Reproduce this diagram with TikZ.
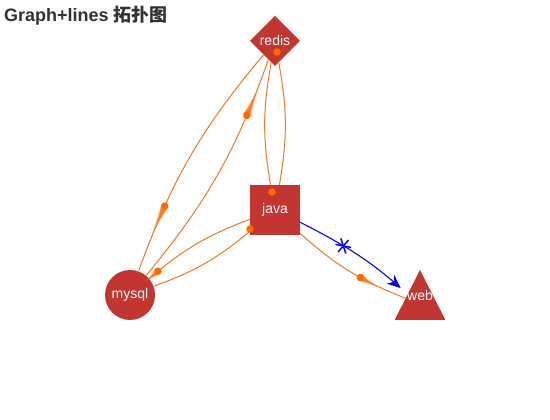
\documentclass[tikz,border=0pt]{standalone}
\usepackage{fontspec}
\setmainfont{Liberation Sans}
\newfontfamily\cjk{Noto Sans CJK SC}
\usepackage{tikz}
\usetikzlibrary{
  arrows.meta,
  calc,
  shapes.geometric,
  decorations.markings,
}

\definecolor{nodered}{HTML}{C23531}
\definecolor{linkorange}{HTML}{EE7A22}
\definecolor{dotorange}{HTML}{FF6A00}
\definecolor{titlegray}{HTML}{333333}

%% moving dot with its trail, #1 = signed trail length (pt)
\newcommand{\effectdot}[1]{%
  \foreach \f in {1,0.8,0.6,0.45,0.3}{
    \fill[dotorange,fill opacity=.3] (0,2.7pt) -- ({#1*\f*1pt},0pt) -- (0,-2.7pt) -- cycle;
  }
  \fill[dotorange] (0,0) circle (2.8pt);
}

\begin{document}
\begin{tikzpicture}[
  x=0.75pt, y=-0.75pt,
  every node/.style={align=center, inner sep=0pt, outer sep=0pt},
  vertex/.style={fill=nodered, text=white, font=\fontsize{10.5}{12}\selectfont},
  link/.style={linkorange, line width=0.75pt},
  flow/.style={blue, line width=0.8pt, -{Stealth[length=10pt,width=8.5pt,inset=3pt]}, shorten >=7pt},
  runfwd/.style 2 args={postaction={decorate, decoration={markings,
      mark=at position #1 with {\effectdot{-#2}}}}},
  runback/.style 2 args={postaction={decorate, decoration={markings,
      mark=at position #1 with {\effectdot{#2}}}}},
  asterisk/.style={postaction={decorate, decoration={markings,
      mark=at position #1 with {
        \draw[-, shorten >=0pt, blue, line width=1.1pt] (80:6pt) -- (260:6pt);
        \draw[-, shorten >=0pt, blue, line width=1.1pt] (20:6pt) -- (200:6pt);
        \draw[-, shorten >=0pt, blue, line width=1.1pt] (140:6pt) -- (320:6pt);}}}},
]

\useasboundingbox (0,0) rectangle (550,420);

\node[anchor=west, font=\fontsize{13.5}{16}\bfseries, text=titlegray] (title)
  at (4,16) {Graph+lines {\cjk 拓扑图}};

%% nodes
\node[vertex, diamond, aspect=1, minimum width=37.5pt, minimum height=37.5pt] (redis)
  at (275,41) {redis};
\node[vertex, rectangle, minimum width=37.5pt, minimum height=37.5pt] (java)
  at (275,210) {java};
\node[vertex, circle, minimum size=37.5pt] (mysql) at (130,295) {mysql};
\node[fill=nodered, isosceles triangle, shape border rotate=90,
  isosceles triangle stretches, minimum width=38pt, minimum height=37.5pt,
  anchor=lower side] (web) at (420,320) {};
\node[text=white, font=\fontsize{10.5}{12}\selectfont] (weblabel)
  at ($(web.apex)!.5!(web.lower side)$) {web};

%% links
\draw[link, runback={0.72}{24}] (redis) to[bend right=10] (mysql);
\draw[link, runfwd={0.24}{22}] (redis) to[bend left=10] (mysql);
\draw[link] (redis) to[bend right=10] (java);
\draw[link] (redis) to[bend left=10] (java);
\draw[link, runback={0.9}{12}] (java) to[bend right=10] (mysql);
\draw[link] (java) to[bend left=10] (mysql);
\draw[link, runback={0.6}{15}] (java) to[bend right=10] (web);
\draw[flow, asterisk=0.38] (java) to[bend left=7] (web);

%% dots sitting on the nodes
\fill[dotorange] ($(redis.center)+(2,11)$) circle (2.8pt);
\fill[dotorange] ($(java.center)+(-3,-18)$) circle (2.8pt);
\fill[dotorange] ($(java.west)+(0,19)$) circle (2.8pt);

\end{tikzpicture}
\end{document}
